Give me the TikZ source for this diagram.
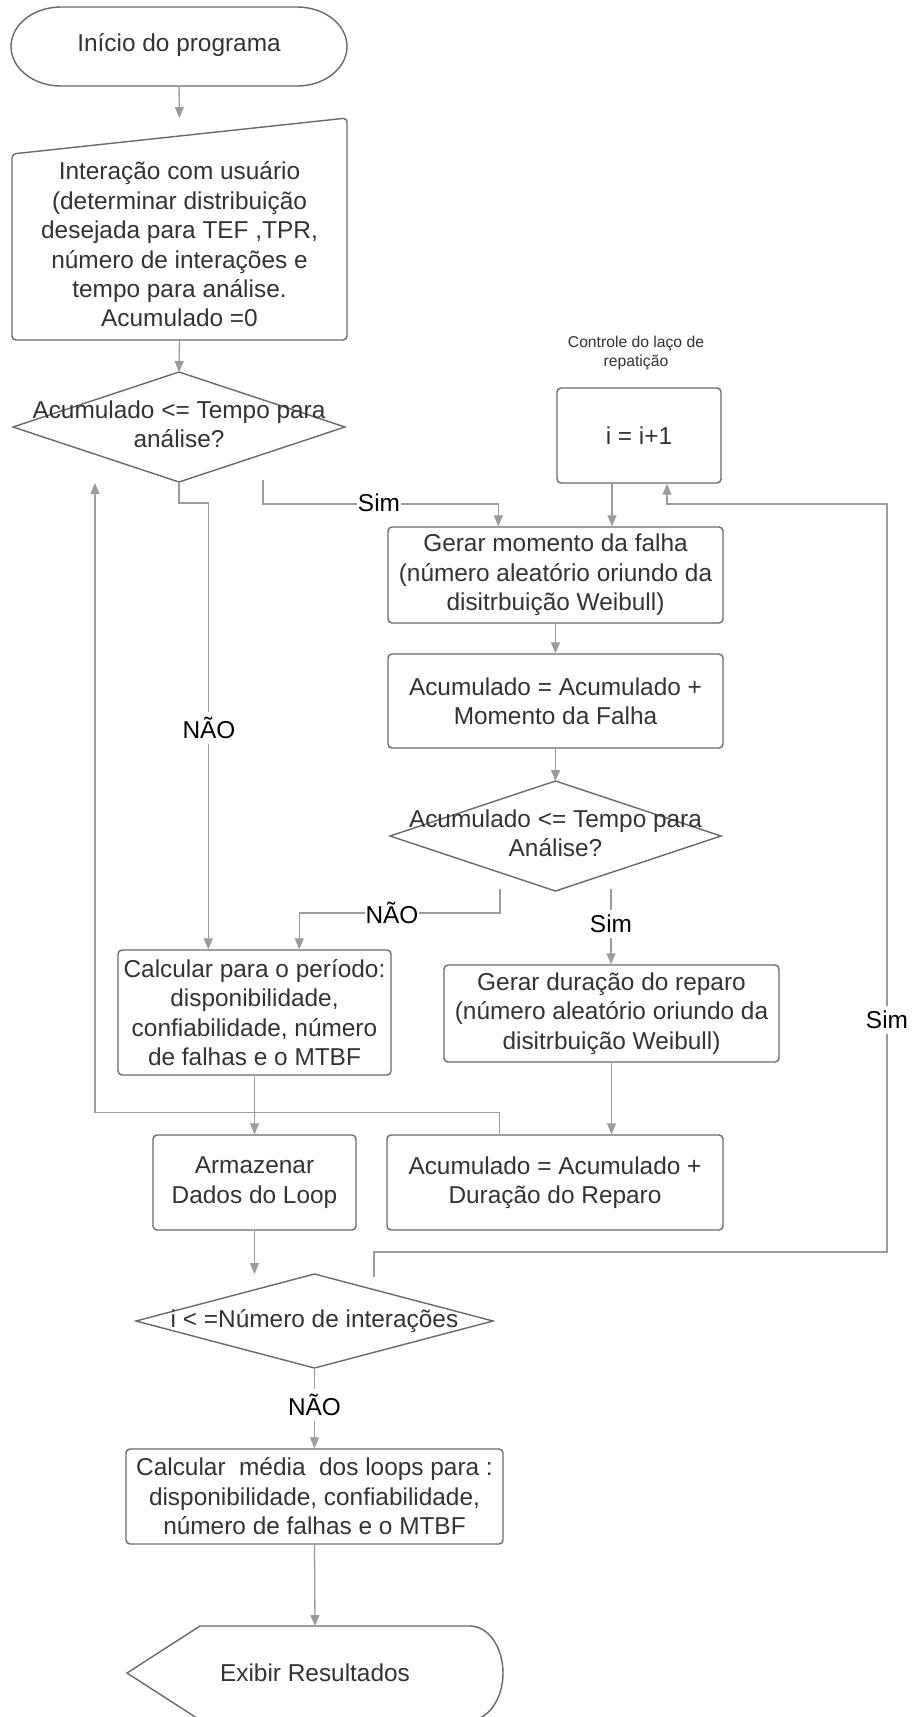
\documentclass[tikz,border=0pt]{standalone}
\usepackage{fontspec}
\setmainfont{Liberation Sans}
\usetikzlibrary{arrows.meta,shapes.misc,calc}
\definecolor{connc}{HTML}{9C9C9C}
\definecolor{edgec}{HTML}{6A6A6A}
\definecolor{txtc}{HTML}{333333}
\newcommand\dgfont{\fontsize{24.4}{29.4}\selectfont}
\newcommand\dgsmall{\fontsize{15.7}{19}\selectfont}
\begin{document}
\begin{tikzpicture}[x=1pt,y=-1pt,
  shp/.style={draw=edgec,line width=1.4pt},
  boxn/.style={shp,rounded corners=4pt,inner sep=0pt,text=txtc,align=center,font=\dgfont},
  ghost/.style={inner sep=0pt,outer sep=0pt},
  txtn/.style={text=txtc,align=center,font=\dgfont,inner sep=0pt},
  conn/.style={draw=connc,line width=1.3pt},
  arr/.style={conn,-{Triangle[length=11pt,width=9pt]}},
  lbl/.style={fill=white,text=black,font=\dgfont,inner xsep=1pt,inner ysep=5pt},
]
\useasboundingbox (0,0) rectangle (913,1717);
\fill[white] (0,0) rectangle (913,1717);

% start (terminator with elliptical ends)
\node[ghost,minimum width=336pt,minimum height=79pt] (start) at (179,46.5) {};
\draw[shp] ([xshift=50pt]start.north west) -- ([xshift=-50pt]start.north east)
  arc[start angle=90,end angle=-90,x radius=50pt,y radius=39.5pt]
  -- ([xshift=50pt]start.south west)
  arc[start angle=270,end angle=90,x radius=50pt,y radius=39.5pt] -- cycle;
\node[txtn] (startt) at (179,45) {Início do programa};

% manual input
\node[ghost,minimum width=335pt,minimum height=222pt] (input) at (179.5,229) {};
\draw[shp,rounded corners=4pt] (input.south west) -- ([yshift=-36pt]input.north west) -- (input.north east) -- (input.south east) -- cycle;
\node[txtn] (inputtxt) at (179.5,244.5) {Interação com usuário\\(determinar distribuição\\desejada para TEF ,TPR,\\número de interações e\\tempo para análise.\\Acumulado =0};

% decision 1
\node[ghost,minimum width=332pt,minimum height=110pt] (d1) at (179,427) {};
\draw[shp] (d1.north) -- (d1.east) -- (d1.south) -- (d1.west) -- cycle;
\node[txtn] (d1t) at (179,424) {Acumulado <= Tempo para\\análise?};

% loop control
\node[txtn,font=\dgsmall] (ctrl) at (636,352.5) {Controle do laço de\\repatição};
\node[boxn,minimum width=164pt,minimum height=95pt] (ii) at (639,435.5) {i = i+1};

% right column
\node[boxn,minimum width=335pt,minimum height=96pt] (gm) at (555.5,575) {Gerar momento da falha\\(número aleatório oriundo da\\disitrbuição Weibull)};
\node[boxn,minimum width=335pt,minimum height=94pt] (acf) at (555.5,701) {Acumulado = Acumulado +\\Momento da Falha};

\node[ghost,minimum width=331pt,minimum height=110pt] (d2) at (555.5,836) {};
\draw[shp] (d2.north) -- (d2.east) -- (d2.south) -- (d2.west) -- cycle;
\node[txtn] (d2t) at (555.5,833) {Acumulado <= Tempo para\\Análise?};

\node[boxn,minimum width=273pt,minimum height=125pt] (calc) at (254.5,1012.5) {Calcular para o período:\\disponibilidade,\\confiabilidade, número\\de falhas e o MTBF};
\node[boxn,minimum width=335pt,minimum height=97pt] (gd) at (611.5,1013.5) {Gerar duração do reparo\\(número aleatório oriundo da\\disitrbuição Weibull)};

\node[boxn,minimum width=203pt,minimum height=95pt] (arm) at (254.5,1182.5) {Armazenar\\Dados do Loop};
\node[boxn,minimum width=336pt,minimum height=95pt] (acd) at (555,1182.5) {Acumulado = Acumulado +\\Duração do Reparo};

% decision 3
\node[ghost,minimum width=357pt,minimum height=94pt] (d3) at (314.5,1321) {};
\draw[shp] (d3.north) -- (d3.east) -- (d3.south) -- (d3.west) -- cycle;
\node[txtn] (d3t) at (314.5,1321) {i < =Número de interações};

\node[boxn,minimum width=377pt,minimum height=95pt] (media) at (314.5,1496.5) {Calcular\ \ média\ \ dos loops para :\\disponibilidade, confiabilidade,\\número de falhas e o MTBF};

% display
\node[ghost,minimum width=376pt,minimum height=94pt] (exibir) at (315,1673) {};
\draw[shp] (exibir.west) -- ([xshift=73pt]exibir.north west) -- ([xshift=-33pt]exibir.north east) arc[start angle=90,end angle=-90,x radius=33pt,y radius=47pt] -- ([xshift=73pt]exibir.south west) -- cycle;
\node[txtn] (exibirt) at (315,1673) {Exibir Resultados};

% connectors
\draw[arr] (start.south) -- (input.north);
\draw[arr] (input.south) -- (d1.north);

\draw[arr] (d1.south) -- ++(0,21) -| ([xshift=91pt]calc.north west);
\node[lbl] (l1) at (209,728) {NÃO};

\coordinate (s1) at (263,480);
\draw[arr] (s1) -- ++(0,24) -| ([xshift=111pt]gm.north west);
\node[lbl] (l2) at (379,503) {Sim};

\draw[arr] ([xshift=-27pt]ii.south) -- ([xshift=-27pt]ii.south |- gm.north);
\draw[arr] (gm.south) -- (acf.north);
\draw[arr] (acf.south) -- (d2.north);

\coordinate (s2n) at (500,889);
\draw[arr] (s2n) -- ++(0,24) -| ([xshift=182pt]calc.north west);
\node[lbl] (l3) at (392,913) {NÃO};

\coordinate (s2s) at (611,889);
\draw[arr] (s2s) -- (s2s |- gd.north);
\node[lbl] (l4) at (611,924) {Sim};

\draw[arr] (gd.south) -- (gd.south |- acd.north);
\draw[arr] (calc.south) -- (arm.north);

\coordinate (loopend) at (95,483);
\draw[arr] ([xshift=113pt]acd.north west) -- ++(0,-22) -| (loopend);

\draw[arr] (arm.south) -- (arm.south |- d3.north);

\coordinate (s3) at (374,1277);
\coordinate (rc) at (887,504);
\draw[arr] (s3) -- ++(0,-25) -| (rc) -| ([xshift=28pt]ii.south);
\node[lbl] (l5) at (887,1020) {Sim};

\draw[arr] (d3.south) -- (media.north);
\node[lbl] (l6) at (314.5,1405) {NÃO};
\draw[arr] (media.south) -- (exibir.north);
\end{tikzpicture}
\end{document}
